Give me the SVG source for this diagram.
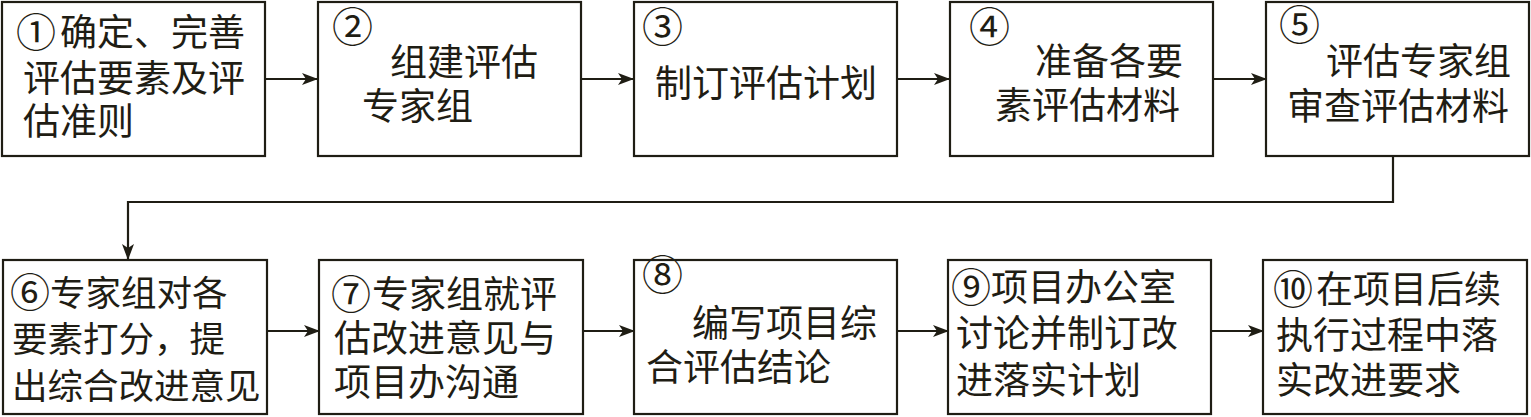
<svg xmlns="http://www.w3.org/2000/svg" width="1531" height="417" viewBox="0 0 1531 417">
<style>
.box{fill:#fff;stroke:#1f1d14;stroke-width:2.2}
.t{font-family:"Liberation Serif","Noto Sans CJK SC","Noto Sans CJK JP",serif;font-size:37px;fill:#1f1d14}
.n{font-size:41px}
.m{font-size:40px}
.sp{font-size:1px}
.c{fill:none;stroke:#1f1d14;stroke-width:2.2}
</style>
<defs>
<marker id="ah" markerWidth="16" markerHeight="12" refX="15" refY="6" orient="auto" markerUnits="userSpaceOnUse">
<path d="M0,0 L16,6 L0,12 L4,6 Z" fill="#1f1d14"/>
</marker>
</defs>
<rect width="1531" height="417" fill="#fff"/>
<g id="connectors">
<line class="c" x1="265" y1="79" x2="317" y2="79" marker-end="url(#ah)"/>
<line class="c" x1="581" y1="79" x2="633" y2="79" marker-end="url(#ah)"/>
<line class="c" x1="897" y1="79" x2="949" y2="79" marker-end="url(#ah)"/>
<line class="c" x1="1213" y1="79" x2="1266" y2="79" marker-end="url(#ah)"/>
<polyline class="c" points="1393,156 1393,202 128,202 128,259" marker-end="url(#ah)"/>
<line class="c" x1="267" y1="331" x2="319" y2="331" marker-end="url(#ah)"/>
<line class="c" x1="583" y1="331" x2="634" y2="331" marker-end="url(#ah)"/>
<line class="c" x1="897" y1="331" x2="948" y2="331" marker-end="url(#ah)"/>
<line class="c" x1="1211" y1="331" x2="1263" y2="331" marker-end="url(#ah)"/>
</g>
<g id="n1">
<rect class="box" x="2" y="2" width="263" height="154"/>
<text class="t" x="16" y="47"><tspan class="m">①</tspan><tspan class="sp"> </tspan><tspan x="60" y="46">确定、完善</tspan></text>
<text class="t" x="23" y="92">评估要素及评</text>
<text class="t" x="23" y="135">估准则</text>
</g>
<g id="n2">
<rect class="box" x="318" y="2" width="263" height="154"/>
<text class="t n" x="332" y="42">②</text>
<text class="t" x="390" y="76">组建评估</text>
<text class="t" x="362" y="120">专家组</text>
</g>
<g id="n3">
<rect class="box" x="634" y="2" width="263" height="154"/>
<text class="t n" x="642" y="42">③</text>
<text class="t" x="655" y="97">制订评估计划</text>
</g>
<g id="n4">
<rect class="box" x="950" y="2" width="263" height="154"/>
<text class="t n" x="969" y="42">④</text>
<text class="t" x="1035" y="75">准备各要</text>
<text class="t" x="995" y="119">素评估材料</text>
</g>
<g id="n5">
<rect class="box" x="1266" y="2" width="263" height="154"/>
<text class="t n" x="1279" y="40">⑤</text>
<text class="t" x="1326" y="75">评估专家组</text>
<text class="t" x="1287" y="120">审查评估材料</text>
</g>
<g id="n6">
<rect class="box" x="3" y="260" width="264" height="154"/>
<text class="t" x="10" y="307" style="font-size:35.5px"><tspan class="m">⑥</tspan><tspan x="50" y="306">专家组对各</tspan></text>
<text class="t" x="12" y="352" style="font-size:35.5px">要素打分，提</text>
<text class="t" x="12" y="399" style="font-size:35.5px">出综合改进意见</text>
</g>
<g id="n7">
<rect class="box" x="319" y="260" width="264" height="154"/>
<text class="t" x="331" y="309"><tspan class="m">⑦</tspan><tspan class="sp"> </tspan><tspan x="372" y="308">专家组就评</tspan></text>
<text class="t" x="334" y="352">估改进意见与</text>
<text class="t" x="334" y="396">项目办沟通</text>
</g>
<g id="n8">
<rect class="box" x="634" y="260" width="263" height="154"/>
<text class="t n" x="642" y="290">⑧</text>
<text class="t" x="692" y="337">编写项目综</text>
<text class="t" x="646" y="381">合评估结论</text>
</g>
<g id="n9">
<rect class="box" x="948" y="260" width="263" height="154"/>
<text class="t" x="951" y="302"><tspan class="m">⑨</tspan><tspan class="sp"> </tspan><tspan x="991" y="301">项目办公室</tspan></text>
<text class="t" x="956" y="347">讨论并制订改</text>
<text class="t" x="956" y="394">进落实计划</text>
</g>
<g id="n10">
<rect class="box" x="1263" y="260" width="264" height="154"/>
<text class="t" x="1273" y="304"><tspan class="m">⑩</tspan><tspan class="sp"> </tspan><tspan x="1316" y="303">在项目后续</tspan></text>
<text class="t" x="1276" y="349">执行过程中落</text>
<text class="t" x="1276" y="394">实改进要求</text>
</g>
</svg>
